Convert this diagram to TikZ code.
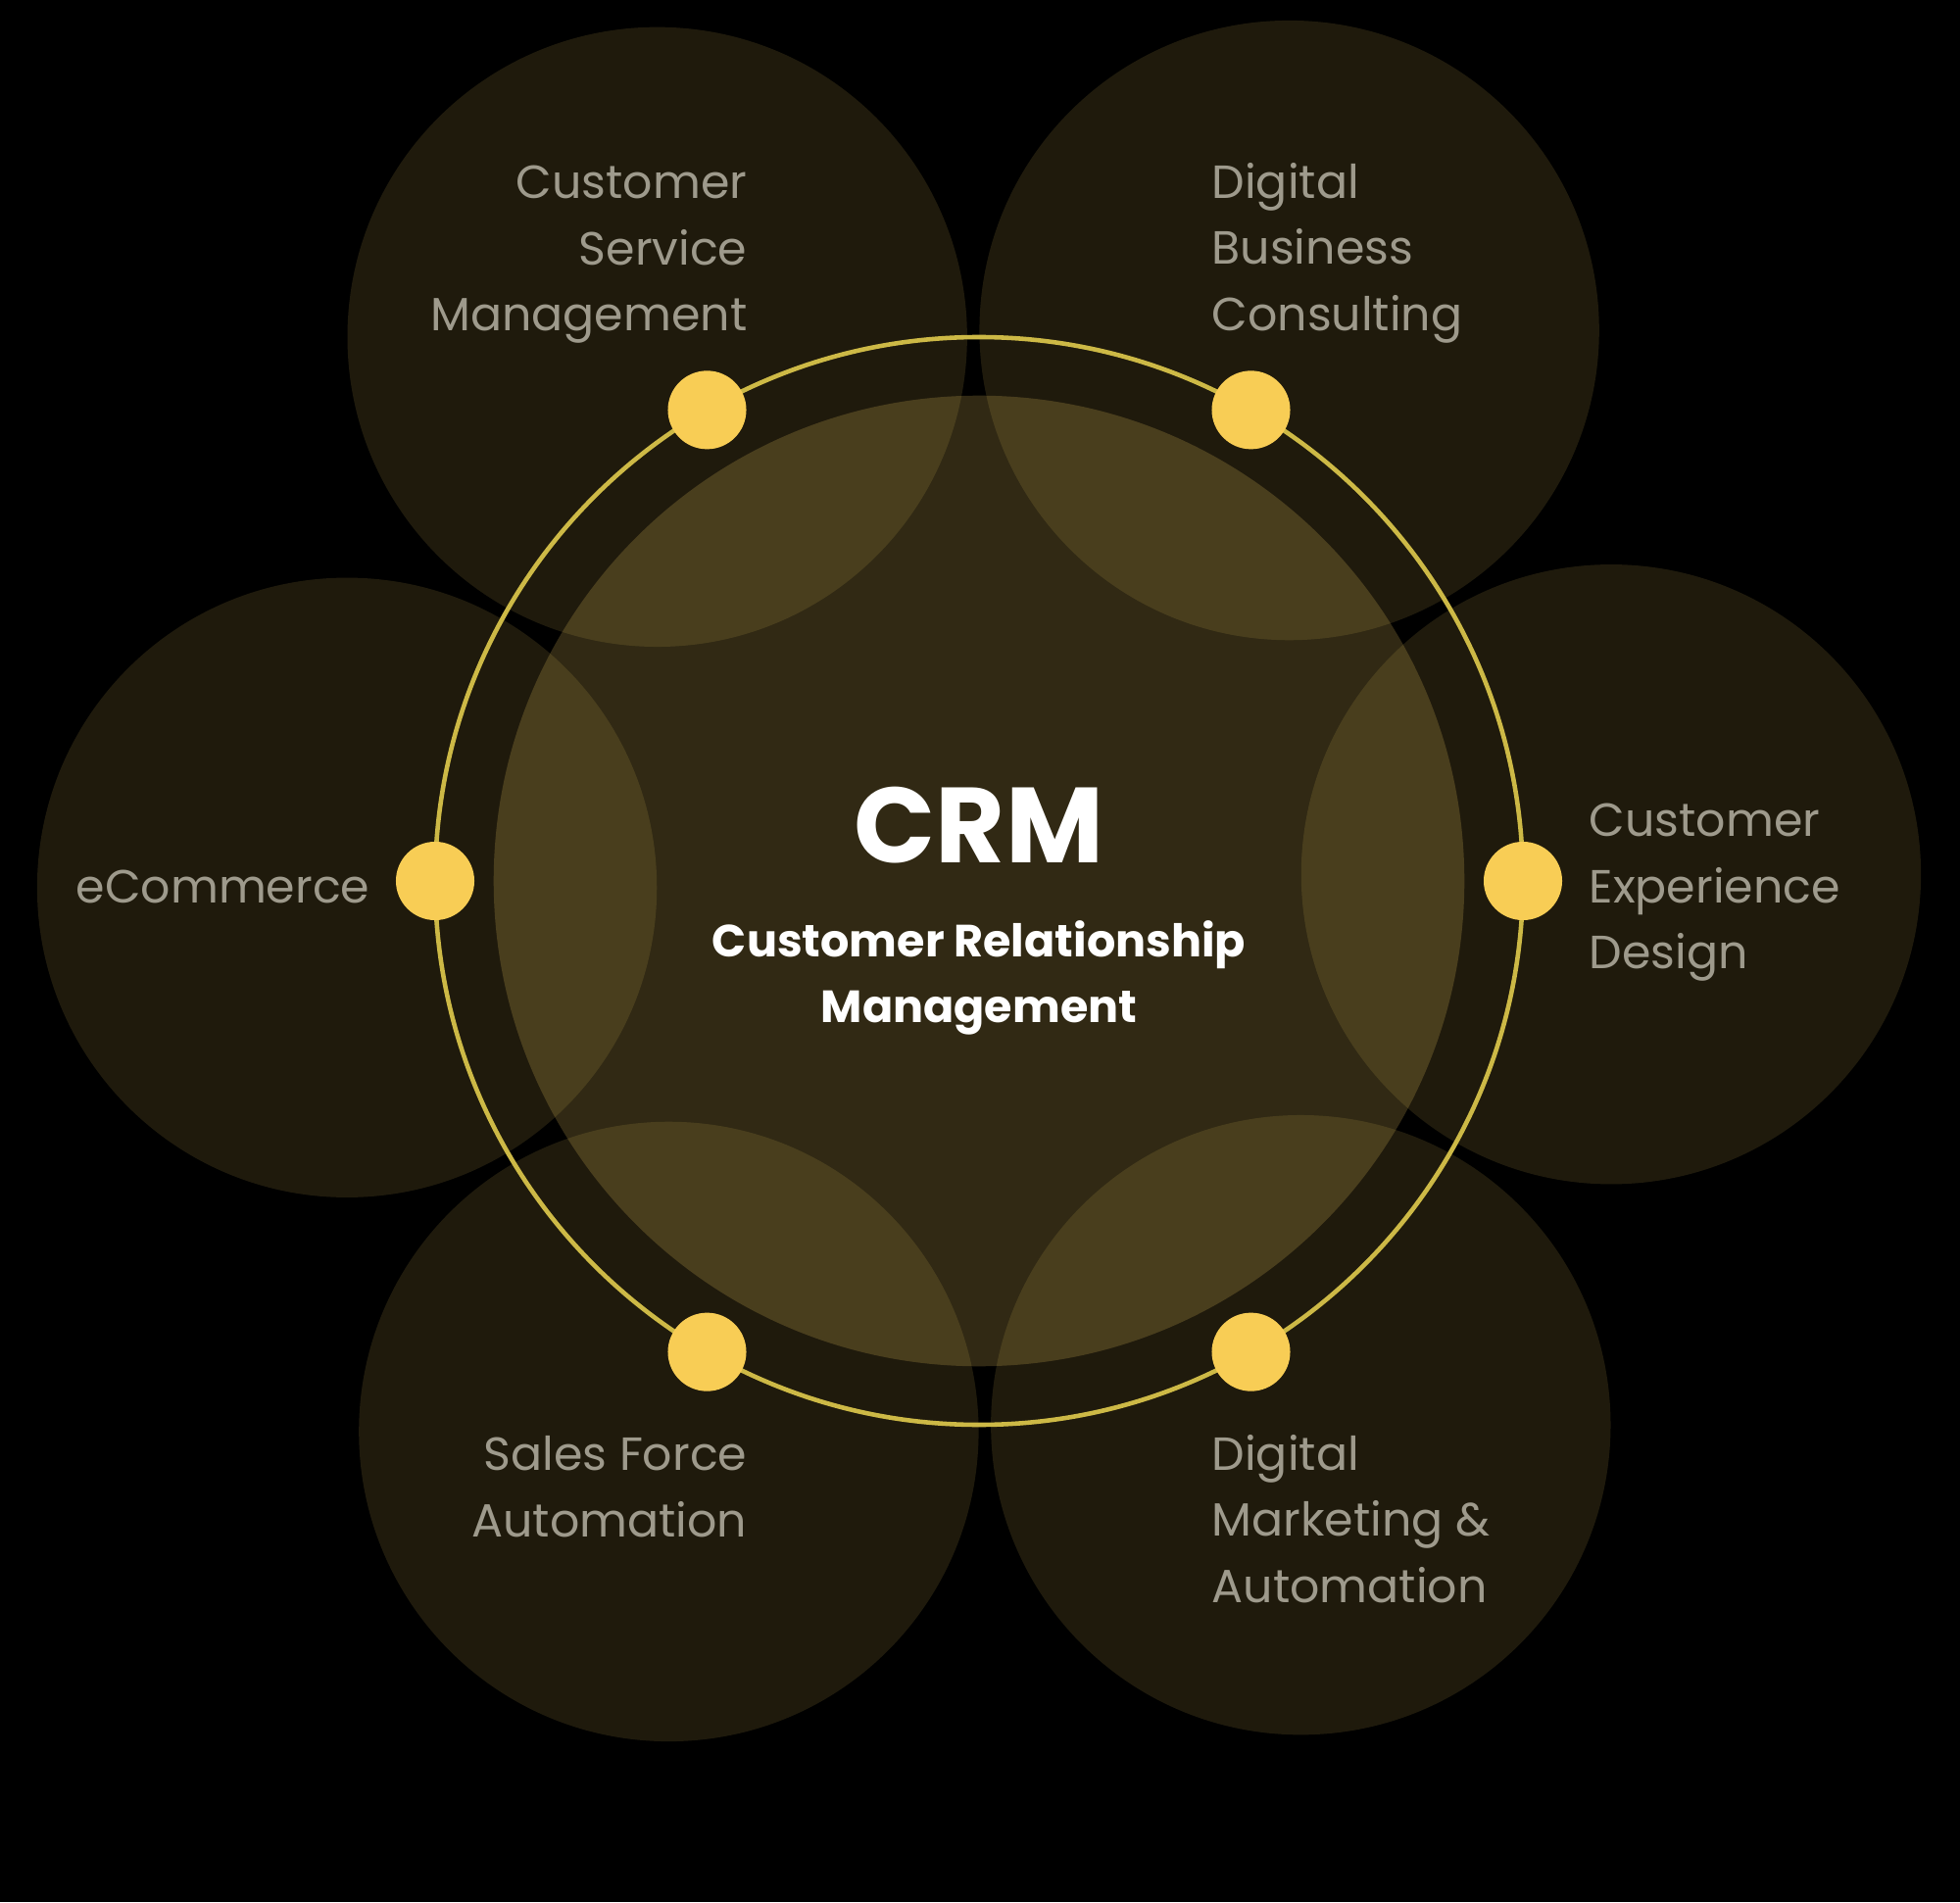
\documentclass[tikz,border=0pt]{standalone}
\usepackage{fontspec}
\setmainfont{Poppins}
\usepackage{tikz}
\usetikzlibrary{positioning, calc}

\definecolor{gold}{RGB}{245,208,100}
\definecolor{dotgold}{RGB}{248,205,85}
\definecolor{ringgold}{RGB}{205,185,70}
\definecolor{labelgray}{RGB}{158,154,140}

\begin{document}
\begin{tikzpicture}[
    x=0.01cm, y=0.01cm,
    every node/.style={inner sep=0pt},
    petal/.style={circle, fill=gold, fill opacity=0.13, minimum size=6.32cm},
    core/.style={circle, fill=gold, fill opacity=0.2, minimum size=9.9cm},
    ringdot/.style={circle, fill=dotgold, minimum size=0.8cm},
    label/.style={text=labelgray, font=\fontsize{13.5}{19.2}\selectfont},
    title/.style={text=white, font=\bfseries\fontsize{31}{36}\selectfont},
    subtitle/.style={text=white, align=center, font=\bfseries\fontsize{13.1}{19.2}\selectfont}
]
\fill[black] (0,0) rectangle (2000,1941);
\useasboundingbox (0,0) rectangle (2000,1941);

\coordinate (c) at (999,1042);

% outer circles
\node[petal] (csm) at ($(c)+(120.6:645)$) {};
\node[petal] (dbc) at ($(c)+(60.6:645)$) {};
\node[petal] (ced) at ($(c)+(0.6:645)$) {};
\node[petal] (dma) at ($(c)+(300.6:645)$) {};
\node[petal] (sfa) at ($(c)+(240.6:645)$) {};
\node[petal] (ecom) at ($(c)+(180.6:645)$) {};

% centre and ring
\node[core] (crm) at (c) {};
\draw[ringgold, line width=1.3pt] (c) circle[radius=555];

\node[ringdot] (d1) at ($(c)+(120:555)$) {};
\node[ringdot] (d2) at ($(c)+(60:555)$) {};
\node[ringdot] (d3) at ($(c)+(0:555)$) {};
\node[ringdot] (d4) at ($(c)+(300:555)$) {};
\node[ringdot] (d5) at ($(c)+(240:555)$) {};
\node[ringdot] (d6) at ($(c)+(180:555)$) {};

% texts
\node[title] (t) at (999,1099) {CRM};
\node[subtitle] (s) at (999,943) {Customer Relationship\\Management};

\node[label, align=right, anchor=east] (l1) at (763,1681) {Customer\\Service\\Management};
\node[label, align=left, anchor=west] (l2) at (1236,1683) {Digital\\Business\\Consulting};
\node[label, align=left, anchor=west] (l3) at (1621,1030) {Customer\\Experience\\Design};
\node[label, align=left, anchor=west] (l4) at (1236,391) {Digital\\Marketing \&\\Automation};
\node[label, align=right, anchor=east] (l5) at (763,424) {Sales Force\\Automation};
\node[label, anchor=east] (l6) at (378,1036) {eCommerce};
\end{tikzpicture}
\end{document}
